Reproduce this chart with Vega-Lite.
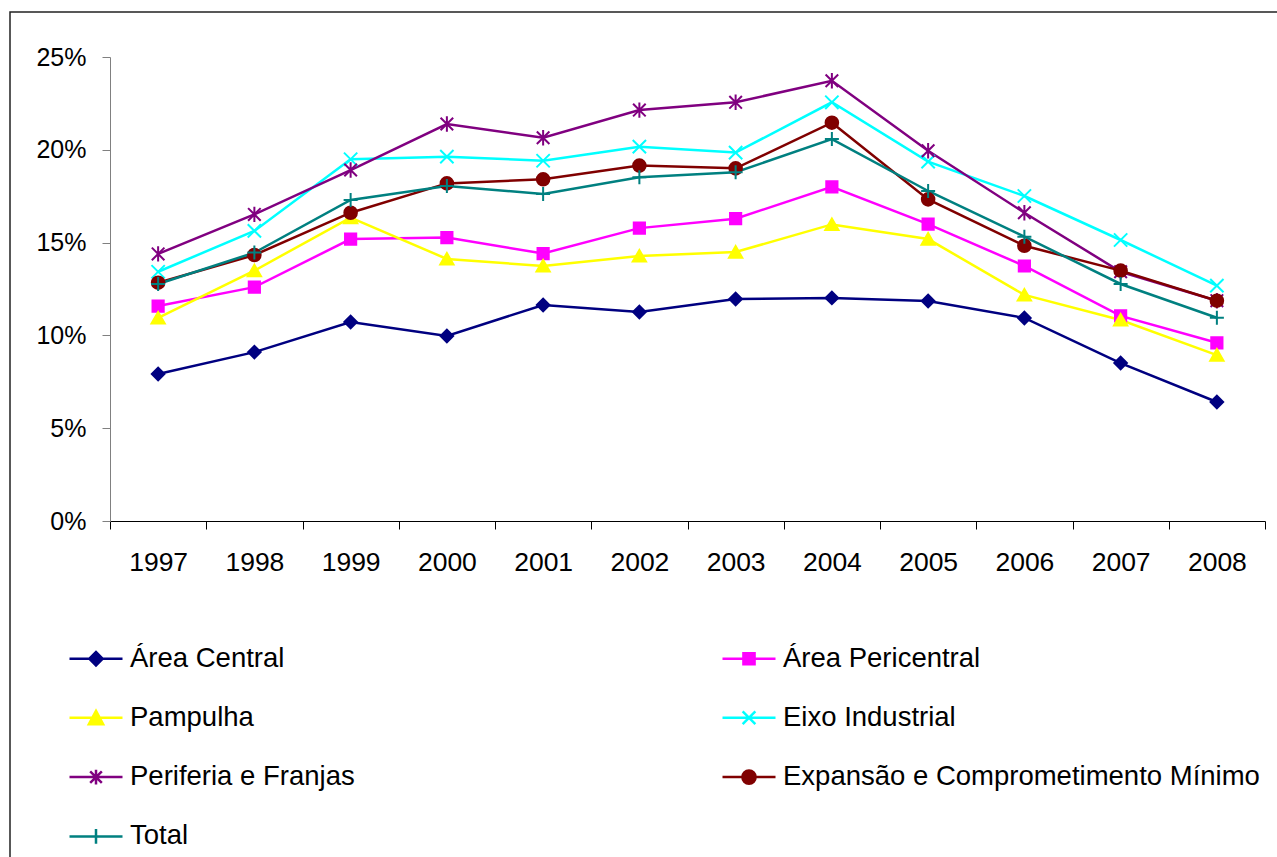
{
  "$schema": "https://vega.github.io/schema/vega-lite/v6.json",
  "width": 1268,
  "height": 846,
  "autosize": {"type": "none"},
  "padding": {"left": 10, "top": 12, "right": 0, "bottom": 0},
  "background": "#ffffff",
  "config": {
    "font": "Liberation Sans",
    "view": {"stroke": "#222222", "strokeWidth": 1.5},
    "axis": {"grid": false, "labelFont": "Liberation Sans", "labelFontSize": 25, "labelColor": "#000000", "title": null}
  },
  "data": {
    "values": [
      {"year": 1997, "series": "Área Central", "value": 0.0792},
      {"year": 1998, "series": "Área Central", "value": 0.0910},
      {"year": 1999, "series": "Área Central", "value": 0.1072},
      {"year": 2000, "series": "Área Central", "value": 0.0997},
      {"year": 2001, "series": "Área Central", "value": 0.1164},
      {"year": 2002, "series": "Área Central", "value": 0.1126},
      {"year": 2003, "series": "Área Central", "value": 0.1196},
      {"year": 2004, "series": "Área Central", "value": 0.1202},
      {"year": 2005, "series": "Área Central", "value": 0.1185},
      {"year": 2006, "series": "Área Central", "value": 0.1094},
      {"year": 2007, "series": "Área Central", "value": 0.0851},
      {"year": 2008, "series": "Área Central", "value": 0.0641},
      {"year": 1997, "series": "Área Pericentral", "value": 0.1158},
      {"year": 1998, "series": "Área Pericentral", "value": 0.1260},
      {"year": 1999, "series": "Área Pericentral", "value": 0.1519},
      {"year": 2000, "series": "Área Pericentral", "value": 0.1527},
      {"year": 2001, "series": "Área Pericentral", "value": 0.1441},
      {"year": 2002, "series": "Área Pericentral", "value": 0.1578},
      {"year": 2003, "series": "Área Pericentral", "value": 0.1629},
      {"year": 2004, "series": "Área Pericentral", "value": 0.1800},
      {"year": 2005, "series": "Área Pericentral", "value": 0.1600},
      {"year": 2006, "series": "Área Pericentral", "value": 0.1374},
      {"year": 2007, "series": "Área Pericentral", "value": 0.1105},
      {"year": 2008, "series": "Área Pericentral", "value": 0.0960},
      {"year": 1997, "series": "Pampulha", "value": 0.1094},
      {"year": 1998, "series": "Pampulha", "value": 0.1349},
      {"year": 1999, "series": "Pampulha", "value": 0.1635},
      {"year": 2000, "series": "Pampulha", "value": 0.1412},
      {"year": 2001, "series": "Pampulha", "value": 0.1374},
      {"year": 2002, "series": "Pampulha", "value": 0.1428},
      {"year": 2003, "series": "Pampulha", "value": 0.1449},
      {"year": 2004, "series": "Pampulha", "value": 0.1598},
      {"year": 2005, "series": "Pampulha", "value": 0.1519},
      {"year": 2006, "series": "Pampulha", "value": 0.1218},
      {"year": 2007, "series": "Pampulha", "value": 0.1083},
      {"year": 2008, "series": "Pampulha", "value": 0.0894},
      {"year": 1997, "series": "Eixo Industrial", "value": 0.1343},
      {"year": 1998, "series": "Eixo Industrial", "value": 0.1563},
      {"year": 1999, "series": "Eixo Industrial", "value": 0.1949},
      {"year": 2000, "series": "Eixo Industrial", "value": 0.1963},
      {"year": 2001, "series": "Eixo Industrial", "value": 0.1941},
      {"year": 2002, "series": "Eixo Industrial", "value": 0.2017},
      {"year": 2003, "series": "Eixo Industrial", "value": 0.1985},
      {"year": 2004, "series": "Eixo Industrial", "value": 0.2256},
      {"year": 2005, "series": "Eixo Industrial", "value": 0.1936},
      {"year": 2006, "series": "Eixo Industrial", "value": 0.1751},
      {"year": 2007, "series": "Eixo Industrial", "value": 0.1514},
      {"year": 2008, "series": "Eixo Industrial", "value": 0.1268},
      {"year": 1997, "series": "Periferia e Franjas", "value": 0.1439},
      {"year": 1998, "series": "Periferia e Franjas", "value": 0.1652},
      {"year": 1999, "series": "Periferia e Franjas", "value": 0.1891},
      {"year": 2000, "series": "Periferia e Franjas", "value": 0.2139},
      {"year": 2001, "series": "Periferia e Franjas", "value": 0.2065},
      {"year": 2002, "series": "Periferia e Franjas", "value": 0.2214},
      {"year": 2003, "series": "Periferia e Franjas", "value": 0.2256},
      {"year": 2004, "series": "Periferia e Franjas", "value": 0.2372},
      {"year": 2005, "series": "Periferia e Franjas", "value": 0.1995},
      {"year": 2006, "series": "Periferia e Franjas", "value": 0.1661},
      {"year": 2007, "series": "Periferia e Franjas", "value": 0.1343},
      {"year": 2008, "series": "Periferia e Franjas", "value": 0.1187},
      {"year": 1997, "series": "Expansão e Comprometimento Mínimo", "value": 0.1284},
      {"year": 1998, "series": "Expansão e Comprometimento Mínimo", "value": 0.1433},
      {"year": 1999, "series": "Expansão e Comprometimento Mínimo", "value": 0.1661},
      {"year": 2000, "series": "Expansão e Comprometimento Mínimo", "value": 0.1819},
      {"year": 2001, "series": "Expansão e Comprometimento Mínimo", "value": 0.1841},
      {"year": 2002, "series": "Expansão e Comprometimento Mínimo", "value": 0.1915},
      {"year": 2003, "series": "Expansão e Comprometimento Mínimo", "value": 0.1900},
      {"year": 2004, "series": "Expansão e Comprometimento Mínimo", "value": 0.2146},
      {"year": 2005, "series": "Expansão e Comprometimento Mínimo", "value": 0.1733},
      {"year": 2006, "series": "Expansão e Comprometimento Mínimo", "value": 0.1483},
      {"year": 2007, "series": "Expansão e Comprometimento Mínimo", "value": 0.1349},
      {"year": 2008, "series": "Expansão e Comprometimento Mínimo", "value": 0.1187},
      {"year": 1997, "series": "Total", "value": 0.1277},
      {"year": 1998, "series": "Total", "value": 0.1446},
      {"year": 1999, "series": "Total", "value": 0.1730},
      {"year": 2000, "series": "Total", "value": 0.1805},
      {"year": 2001, "series": "Total", "value": 0.1762},
      {"year": 2002, "series": "Total", "value": 0.1852},
      {"year": 2003, "series": "Total", "value": 0.1879},
      {"year": 2004, "series": "Total", "value": 0.2058},
      {"year": 2005, "series": "Total", "value": 0.1778},
      {"year": 2006, "series": "Total", "value": 0.1532},
      {"year": 2007, "series": "Total", "value": 0.1277},
      {"year": 2008, "series": "Total", "value": 0.1095}
    ]
  },
  "encoding": {
    "x": {
      "field": "year",
      "type": "quantitative",
      "scale": {"domain": [1996.5, 2008.5], "range": [100, 1255], "nice": false, "zero": false},
      "axis": {
        "orient": "bottom",
        "offset": -337,
        "values": [1996.5, 1997.5, 1998.5, 1999.5, 2000.5, 2001.5, 2002.5, 2003.5, 2004.5, 2005.5, 2006.5, 2007.5, 2008.5],
        "labelExpr": "datum.value < 2008 ? format(datum.value + 0.5, 'd') : ''",
        "labelOffset": 48.125,
        "labelFontSize": 26.5,
        "labelOverlap": false,
        "labelFlush": false,
        "labelBound": false,
        "tickSize": 8,
        "tickColor": "#000000",
        "domainColor": "#000000",
        "domainWidth": 1,
        "labelPadding": 20
      }
    },
    "y": {
      "field": "value",
      "type": "quantitative",
      "scale": {"domain": [0, 0.25], "range": [509, 45], "nice": false, "zero": true},
      "axis": {
        "orient": "left",
        "offset": -100,
        "values": [0, 0.05, 0.1, 0.15, 0.2, 0.25],
        "format": ".0%",
        "tickSize": 8,
        "tickColor": "#808080",
        "domainColor": "#808080",
        "labelPadding": 16,
        "labelOverlap": false,
        "labelFlush": false,
        "labelBound": false
      }
    }
  },
  "layer": [
    {
      "mark": {"type": "line", "strokeWidth": 2.5},
      "encoding": {
        "color": {
          "field": "series",
          "type": "nominal",
          "scale": {
            "domain": ["Área Central", "Área Pericentral", "Pampulha", "Eixo Industrial", "Periferia e Franjas", "Expansão e Comprometimento Mínimo", "Total"],
            "range": ["#000080", "#FF00FF", "#FFFF00", "#00FFFF", "#800080", "#800000", "#008080"]
          },
          "legend": {
            "title": null,
            "orient": "none",
            "legendX": 58,
            "legendY": 618.5,
            "direction": "horizontal",
            "columns": 2,
            "gridAlign": "all",
            "columnPadding": 110,
            "rowPadding": 17.3,
            "symbolSize": 2809,
            "labelFont": "Liberation Sans",
            "labelFontSize": 27.5,
            "labelColor": "#000000",
            "labelOffset": 6,
            "labelLimit": 0,
            "padding": 0,
            "encode": {
              "symbols": {
                "update": {
                  "shape": {"signal": "datum.value === 'Área Central' ? 'M-1,0L1,0M-0.25,0L0,-0.25L0.25,0L0,0.25Z' : datum.value === 'Área Pericentral' ? 'M-1,0L1,0M-0.21,-0.21L0.21,-0.21L0.21,0.21L-0.21,0.21Z' : datum.value === 'Pampulha' ? 'M-1,0L1,0M0,-0.26L0.27,0.24L-0.27,0.24Z' : datum.value === 'Eixo Industrial' ? 'M-1,0L1,0M-0.24,-0.24L0.24,0.24M0.24,-0.24L-0.24,0.24' : datum.value === 'Periferia e Franjas' ? 'M-1,0L1,0M-0.22,-0.22L0.22,0.22M0.22,-0.22L-0.22,0.22M0,-0.28L0,0.28' : datum.value === 'Total' ? 'M-1,0L1,0M0,-0.28L0,0.28' : 'M-1,0L1,0M-0.25,0A0.25,0.25,0,1,0,0.25,0A0.25,0.25,0,1,0,-0.25,0Z'"},
                  "size": {"value": 2809},
                  "fill": {"scale": "color", "field": "value"},
                  "stroke": {"scale": "color", "field": "value"},
                  "strokeWidth": {"value": 2.5},
                  "opacity": {"value": 1},
                  "fillOpacity": {"value": 1}
                }
              }
            }
          }
        }
      }
    },
    {
      "transform": [{"filter": "datum.series === 'Área Central'"}],
      "mark": {"type": "point", "filled": true, "size": 196, "strokeWidth": 2, "opacity": 1, "fill": "#000080", "stroke": "#000080", "shape": "M-0.9,0L0,-0.9L0.9,0L0,0.9Z"}
    },
    {
      "transform": [{"filter": "datum.series === 'Área Pericentral'"}],
      "mark": {"type": "point", "filled": true, "size": 196, "strokeWidth": 2, "opacity": 1, "fill": "#FF00FF", "stroke": "#FF00FF", "shape": "M-0.8,-0.8L0.8,-0.8L0.8,0.8L-0.8,0.8Z"}
    },
    {
      "transform": [{"filter": "datum.series === 'Pampulha'"}],
      "mark": {"type": "point", "filled": true, "size": 196, "strokeWidth": 2, "opacity": 1, "fill": "#FFFF00", "stroke": "#FFFF00", "shape": "M0,-0.85L0.95,0.8L-0.95,0.8Z"}
    },
    {
      "transform": [{"filter": "datum.series === 'Eixo Industrial'"}],
      "mark": {"type": "point", "filled": false, "size": 196, "strokeWidth": 2, "opacity": 1, "stroke": "#00FFFF", "shape": "M-0.95,-0.95L0.95,0.95M0.95,-0.95L-0.95,0.95"}
    },
    {
      "transform": [{"filter": "datum.series === 'Periferia e Franjas'"}],
      "mark": {"type": "point", "filled": false, "size": 196, "strokeWidth": 2, "opacity": 1, "stroke": "#800080", "shape": "M-0.9,-0.9L0.9,0.9M0.9,-0.9L-0.9,0.9M0,-1.1L0,1.1"}
    },
    {
      "transform": [{"filter": "datum.series === 'Expansão e Comprometimento Mínimo'"}],
      "mark": {"type": "point", "filled": true, "size": 196, "strokeWidth": 2, "opacity": 1, "fill": "#800000", "stroke": "#800000", "shape": "M-0.9,0A0.9,0.9,0,1,0,0.9,0A0.9,0.9,0,1,0,-0.9,0Z"}
    },
    {
      "transform": [{"filter": "datum.series === 'Total'"}],
      "mark": {"type": "point", "filled": false, "size": 196, "strokeWidth": 2, "opacity": 1, "stroke": "#008080", "shape": "M-1,0L1,0M0,-1L0,1"}
    }
  ]
}
